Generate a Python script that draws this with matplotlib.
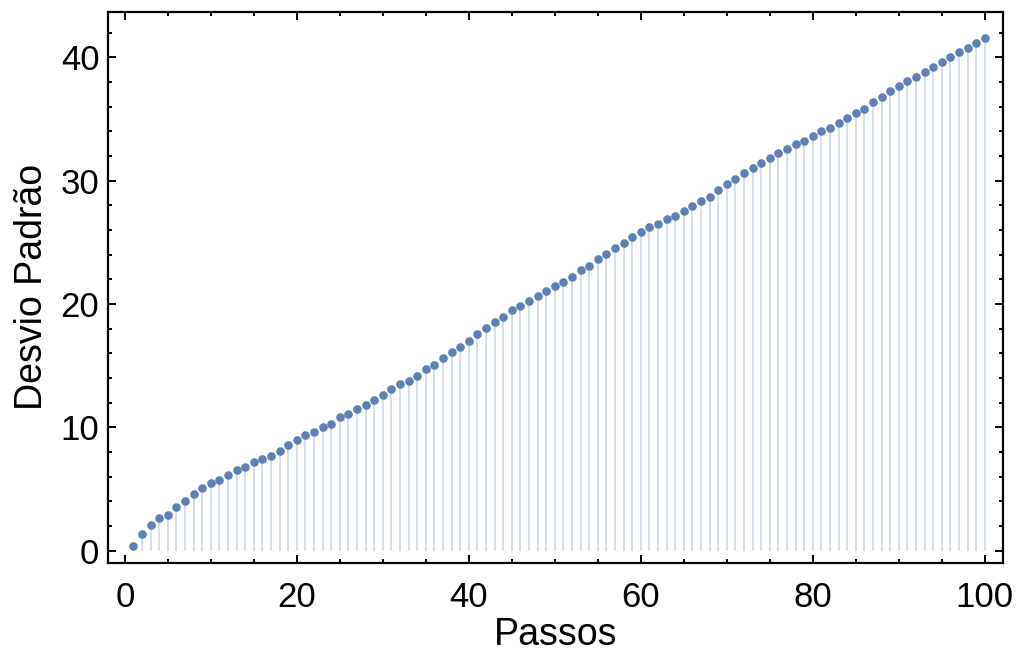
import matplotlib.pyplot as plt
from matplotlib.ticker import MultipleLocator

plt.rcParams['font.family'] = ['Liberation Sans', 'DejaVu Sans']

# Desvio padrão por número de passos
passos = list(range(1, 101))
desvio = [
    0.41, 1.32, 2.11, 2.62, 2.89, 3.54, 4.05, 4.57, 5.08, 5.49,
    5.73, 6.11, 6.51, 6.76, 7.16, 7.43, 7.68, 8.08, 8.60, 8.98,
    9.38, 9.63, 10.03, 10.28, 10.81, 11.05, 11.46, 11.84, 12.25, 12.63,
    13.14, 13.52, 13.79, 14.17, 14.71, 15.09, 15.60, 16.11, 16.49, 17.03,
    17.54, 18.06, 18.57, 18.98, 19.49, 19.87, 20.28, 20.66, 21.06, 21.44,
    21.82, 22.22, 22.73, 23.11, 23.63, 24.03, 24.55, 24.93, 25.47, 25.85,
    26.25, 26.50, 26.87, 27.14, 27.52, 27.92, 28.32, 28.71, 29.22, 29.77,
    30.15, 30.66, 31.04, 31.44, 31.82, 32.22, 32.60, 33.01, 33.25, 33.66,
    34.06, 34.31, 34.69, 35.09, 35.46, 35.83, 36.36, 36.77, 37.28, 37.66,
    38.06, 38.44, 38.85, 39.23, 39.63, 40.01, 40.42, 40.80, 41.20, 41.58,
]

cor_ponto = '#5e81b5'
cor_preench = '#c9d5e8'

fig = plt.figure(figsize=(10.17, 6.57), dpi=100)
ax = fig.add_axes([0.106, 0.143, 0.88, 0.839])

# preenchimento até o eixo
ax.vlines(passos, 0, desvio, colors=cor_preench, linewidth=1.1, zorder=1)
ax.plot(passos, desvio, 'o', color=cor_ponto, markersize=6.2,
        markeredgewidth=0, zorder=2)

ax.set_xlim(-1.98, 102.1)
ax.set_ylim(-1, 43.7)

ax.xaxis.set_major_locator(MultipleLocator(20))
ax.xaxis.set_minor_locator(MultipleLocator(5))
ax.yaxis.set_major_locator(MultipleLocator(10))
ax.yaxis.set_minor_locator(MultipleLocator(2))

ax.tick_params(which='both', direction='in', top=True, right=True,
               width=1.4, labelsize=25)
ax.tick_params(which='major', length=5.5)
ax.tick_params(which='minor', length=3)
ax.tick_params(axis='x', pad=13)
ax.tick_params(axis='y', pad=6)

for s in ax.spines.values():
    s.set_linewidth(1.6)

ax.set_xlabel('Passos', fontsize=27, labelpad=2)
ax.set_ylabel('Desvio Padrão', fontsize=27, labelpad=8)

fig.savefig('out.png', dpi=100)
